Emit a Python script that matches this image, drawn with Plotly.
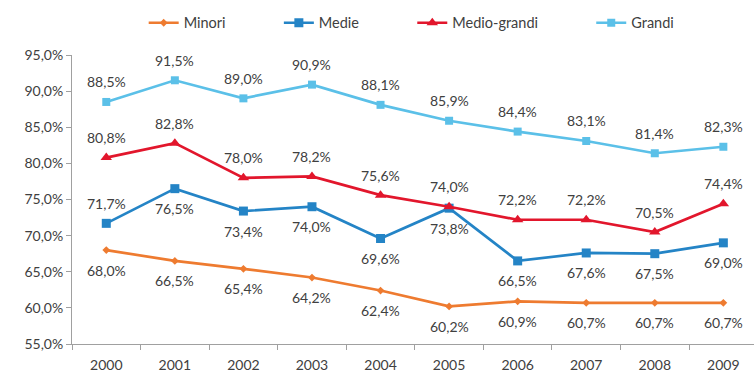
import plotly.graph_objects as go

# Data: share (%) by company size class, 2000-2009
years = ["2000", "2001", "2002", "2003", "2004", "2005", "2006", "2007", "2008", "2009"]
minori = [68.0, 66.5, 65.4, 64.2, 62.4, 60.2, 60.9, 60.7, 60.7, 60.7]
medie = [71.7, 76.5, 73.4, 74.0, 69.6, 73.8, 66.5, 67.6, 67.5, 69.0]
medio_grandi = [80.8, 82.8, 78.0, 78.2, 75.6, 74.0, 72.2, 72.2, 70.5, 74.4]
grandi = [88.5, 91.5, 89.0, 90.9, 88.1, 85.9, 84.4, 83.1, 81.4, 82.3]
y_ticks = [55, 60, 65, 70, 75, 80, 85, 90, 95]

FONT = "Lato"
TXT = "#404040"
PAD = "\u00a0" * 13


def fmt(v):
    return f"{v:.1f}%".replace(".", ",")


fig = go.Figure()


def series(name, values, color, symbol, size, above):
    fig.add_trace(go.Scatter(
        x=years,
        y=values,
        name=name,
        mode="lines+markers",
        line=dict(color=color, width=2.7),
        marker=dict(symbol=symbol, size=size, color=color),
        cliponaxis=False,
    ))
    # value labels, above or below each point (x given as category index)
    for i, (v, up) in enumerate(zip(values, above)):
        fig.add_annotation(
            x=i, y=v, xref="x", yref="y", text=fmt(v), showarrow=False,
            yshift=20 if up else -20,
            font=dict(family=FONT, size=14, color=TXT),
        )


series("Minori" + PAD, minori, "#EE7B30", "diamond", 6, [False] * 10)
series("Medie" + PAD, medie, "#2484C6", "square", 9, [True] + [False] * 9)
series("Medio-grandi" + PAD, medio_grandi, "#E2162C", "triangle-up", 10, [True] * 10)
series("Grandi", grandi, "#5BC0E8", "square", 8, [True] * 10)

fig.update_layout(
    width=754,
    height=379,
    margin=dict(l=72, r=0, t=55, b=35),
    paper_bgcolor="white",
    plot_bgcolor="white",
    font=dict(family=FONT, color=TXT, size=14),
    showlegend=True,
    legend=dict(
        orientation="h",
        x=0.546,
        xanchor="center",
        xref="container",
        y=0.982,
        yanchor="top",
        yref="container",
        font=dict(family=FONT, size=14.5, color=TXT),
        itemwidth=30,
        traceorder="normal",
    ),
    xaxis=dict(
        type="category",
        range=[-0.5, 9.447],
        tickson="boundaries",
        ticks="outside",
        ticklen=5,
        tickcolor="#A0A0A0",
        showline=True,
        linecolor="#A0A0A0",
        linewidth=1,
        showgrid=False,
        ticklabelstandoff=8,
        tickfont=dict(family=FONT, size=14, color=TXT),
    ),
    yaxis=dict(
        range=[55, 95],
        tickvals=y_ticks,
        ticktext=[fmt(v) for v in y_ticks],
        ticks="outside",
        ticklen=5,
        tickcolor="#A0A0A0",
        showline=True,
        linecolor="#A0A0A0",
        linewidth=1,
        showgrid=False,
        zeroline=False,
        tickfont=dict(family=FONT, size=14, color=TXT),
    ),
)

fig.write_html("out.html")
